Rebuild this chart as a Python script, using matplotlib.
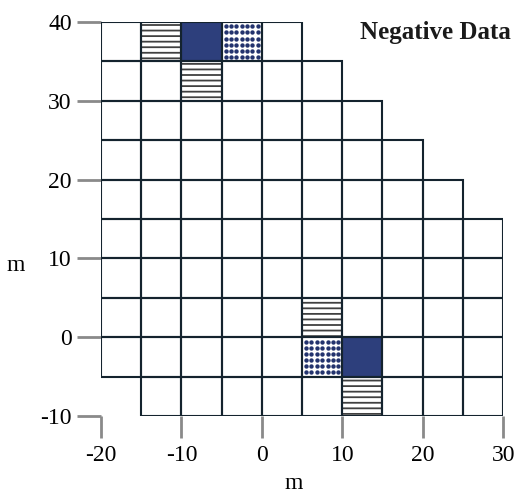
"""
Negative data cell layout: staircase grid of 5 m cells with marked cells.
"""
import numpy as np
import matplotlib
matplotlib.use("Agg")
import matplotlib.pyplot as plt
from matplotlib.patches import Rectangle

plt.rcParams['font.family'] = ['Liberation Serif', 'DejaVu Serif']
plt.rcParams['hatch.linewidth'] = 1.3

CELL = 5
# each row of the grid: bottom y, left x, right x
ROW_BOTTOM = [-10, -5, 0, 5, 10, 15, 20, 25, 30, 35]
ROW_LEFT   = [-15, -20, -20, -20, -20, -20, -20, -20, -20, -20]
ROW_RIGHT  = [30, 30, 30, 30, 30, 25, 20, 15, 10, 5]

# marked cells (lower-left corners)
HATCH_CELLS = [(-15, 35), (-10, 30), (5, 0), (10, -10)]
SOLID_CELLS = [(-10, 35), (10, -5)]
DOT_CELLS   = [(-5, 35), (5, -5)]

XTICKS = [-20, -10, 0, 10, 20, 30]
YTICKS = [-10, 0, 10, 20, 30, 40]

GRID_COL  = '#14232e'
SOLID_COL = '#2d3f7c'
DOT_COL   = '#23336e'
HATCH_COL = '#404040'
TICK_COL  = '#8a8a8a'

fig = plt.figure(figsize=(5.15, 4.99), dpi=100)
ax = fig.add_axes([0.196, 0.166, 0.781, 0.790])

# marked cells first, grid lines on top
for (x0, y0) in SOLID_CELLS:
    ax.add_patch(Rectangle((x0, y0), CELL, CELL, facecolor=SOLID_COL,
                           edgecolor='none', zorder=1))
for (x0, y0) in HATCH_CELLS:
    ax.add_patch(Rectangle((x0, y0), CELL, CELL, facecolor='white',
                           edgecolor=HATCH_COL, hatch='---', lw=0, zorder=1))
for (x0, y0) in DOT_CELLS:
    g = np.linspace(x0 + 0.5, x0 + CELL - 0.5, 7)
    h = np.linspace(y0 + 0.55, y0 + CELL - 0.55, 6)
    gx, gy = np.meshgrid(g, h)
    ax.scatter(gx.ravel(), gy.ravel(), marker='o', s=10, color=DOT_COL,
               linewidths=0, zorder=2)

for yb, xl, xr in zip(ROW_BOTTOM, ROW_LEFT, ROW_RIGHT):
    for xc in range(xl, xr, CELL):
        ax.add_patch(Rectangle((xc, yb), CELL, CELL, facecolor='none',
                               edgecolor=GRID_COL, lw=1.5, zorder=3))

ax.set_xlim(-20, 30)
ax.set_ylim(-10, 40)
ax.set_xticks(XTICKS)
ax.set_yticks(YTICKS)
ax.set_xticklabels([str(v) for v in XTICKS], fontsize=17)
ax.set_yticklabels([str(v) for v in YTICKS], fontsize=17)
ax.tick_params(axis='both', direction='out', color=TICK_COL, width=2)
ax.tick_params(axis='y', length=17, pad=4)
ax.tick_params(axis='x', length=16, pad=5)
for sp in ax.spines.values():
    sp.set_visible(False)

ax.set_xlabel('m', fontsize=17, va='center')
ax.xaxis.set_label_coords(0.48, -0.17)
ax.set_ylabel('m', fontsize=17, rotation=0, va='center', ha='center')
ax.yaxis.set_label_coords(-0.213, 0.383)

ax.text(31, 38.7, 'Negative Data', ha='right', va='center', fontsize=18,
        fontweight='bold', color='#1a1a1a', clip_on=False)

fig.savefig('out.png', dpi=100)
